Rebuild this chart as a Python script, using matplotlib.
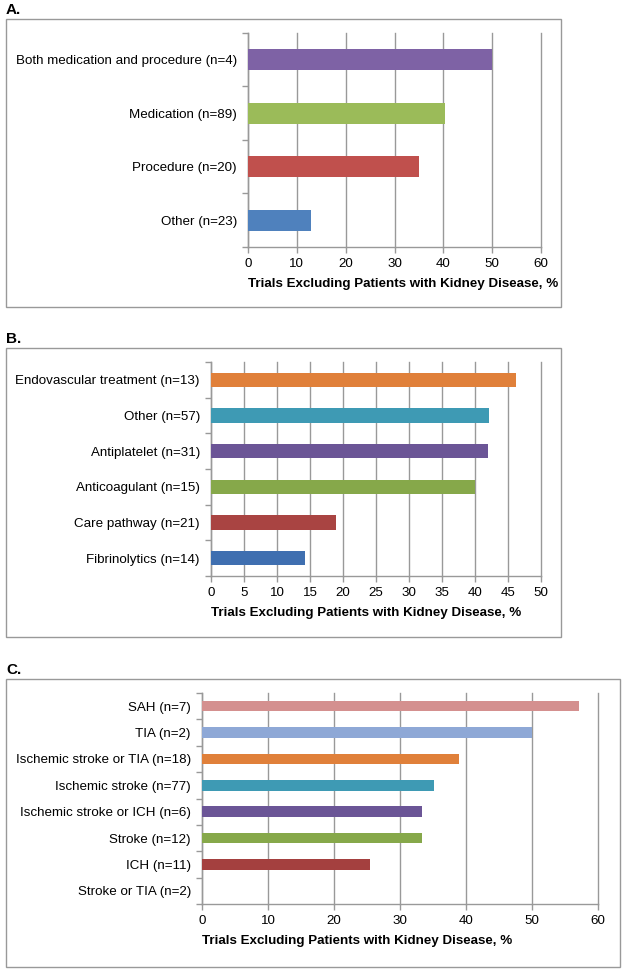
import numpy as np
import matplotlib
matplotlib.use('Agg')
import matplotlib.pyplot as plt
from matplotlib.patches import Rectangle

plt.rcParams['font.family'] = ['Liberation Sans', 'DejaVu Sans']

# panel A: intervention type
catA = ['Both medication and procedure (n=4)', 'Medication (n=89)',
        'Procedure (n=20)', 'Other (n=23)']
valA = [50.0, 40.4, 35.0, 13.0]
colA = ['#7E62A5', '#9BBB59', '#C0504D', '#4F81BD']

# panel B: treatment category
catB = ['Endovascular treatment (n=13)', 'Other (n=57)', 'Antiplatelet (n=31)',
        'Anticoagulant (n=15)', 'Care pathway (n=21)', 'Fibrinolytics (n=14)']
valB = [46.2, 42.1, 41.9, 40.0, 19.0, 14.3]
colB = ['#E0803A', '#3E9AB4', '#6B5596', '#86A84A', '#A94442', '#3F6FB0']

# panel C: stroke type
catC = ['SAH (n=7)', 'TIA (n=2)', 'Ischemic stroke or TIA (n=18)',
        'Ischemic stroke (n=77)', 'Ischemic stroke or ICH (n=6)',
        'Stroke (n=12)', 'ICH (n=11)', 'Stroke or TIA (n=2)']
valC = [57.1, 50.0, 38.9, 35.1, 33.3, 33.3, 25.5, 0.0]
colC = ['#D4908F', '#8EA8D6', '#E0803A', '#3E9AB4', '#6B5596', '#86A84A',
        '#A4403F', '#A4403F']

W, H = 625, 972
fig = plt.figure(figsize=(W / 100, H / 100), dpi=100)
grey = '#999999'
xlab = 'Trials Excluding Patients with Kidney Disease, %'
fs = 9.6


def px_axes(x0, y0, x1, y1):
    return fig.add_axes([x0 / W, 1 - y1 / H, (x1 - x0) / W, (y1 - y0) / H])


def box(x0, y0, x1, y1, letter):
    fig.patches.append(Rectangle((x0 / W, 1 - y1 / H), (x1 - x0) / W, (y1 - y0) / H,
                                 transform=fig.transFigure, fill=False,
                                 edgecolor=grey, linewidth=1.0))
    fig.text(x0 / W, 1 - (y0 - 9) / H, letter, fontsize=11, fontweight='bold',
             ha='left', va='center')


def panel(ax, cats, vals, cols, xmax, step):
    n = len(cats)
    y = np.arange(n)[::-1]
    ax.barh(y, vals, height=0.4, color=cols, zorder=3)
    ax.set_xlim(0, xmax)
    ax.set_ylim(-0.5, n - 0.5)
    ax.set_xticks(np.arange(0, xmax + 1, step))
    ax.set_yticks(y)
    ax.set_yticklabels(cats, fontsize=fs)
    ax.set_yticks(np.arange(-0.5, n, 1.0), minor=True)
    ax.tick_params(axis='y', which='major', length=0, pad=8)
    ax.tick_params(axis='y', which='minor', length=4, color=grey, width=1)
    ax.tick_params(axis='x', length=4, color=grey, width=1, labelsize=fs, pad=4)
    ax.grid(axis='x', color=grey, linewidth=1.0, zorder=0)
    for gl in ax.get_xgridlines():
        gl.set_clip_on(False)
    for s in ['top', 'right']:
        ax.spines[s].set_visible(False)
    for s in ['left', 'bottom']:
        ax.spines[s].set_color(grey)
        ax.spines[s].set_linewidth(1.0)
    ax.set_xlabel(xlab, fontsize=fs, fontweight='bold', loc='left', labelpad=6)


box(6, 19, 561, 307, 'A.')
axA = px_axes(248, 33, 541, 247)
panel(axA, catA, valA, colA, 60, 10)

box(6, 348, 561, 637, 'B.')
axB = px_axes(211, 362, 541, 576)
panel(axB, catB, valB, colB, 50, 5)

box(6, 679, 620, 967, 'C.')
axC = px_axes(202, 693, 598, 904)
panel(axC, catC, valC, colC, 60, 10)

fig.savefig('out.png', dpi=100)
